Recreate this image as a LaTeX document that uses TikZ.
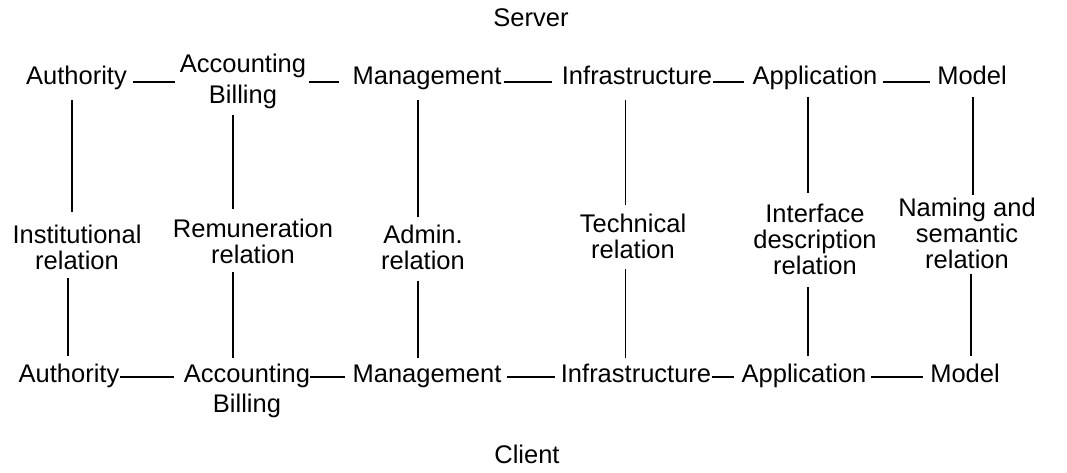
\documentclass[tikz,border=0pt]{standalone}
\usepackage{fontspec}
\setmainfont{Liberation Sans}
\newcommand{\stk}[1]{\begin{tabular}[t]{@{}c@{}}#1\end{tabular}}
\begin{document}
\begin{tikzpicture}[x=1pt,y=-1pt,
  lbl/.style={anchor=base, inner sep=0pt, font=\fontsize{25.5}{25.5}\selectfont},
  ln/.style={line width=1.8pt}]
\useasboundingbox (0,0) rectangle (1067,473);
% titles
\node[lbl] (server) at (531,27) {Server};
\node[lbl] (client) at (527,463) {Client};
% server row
\node[lbl] (sauth) at (76.5,85) {Authority};
\node[lbl] (sacc) at (243,73) {\stk{Accounting\\[4.5pt]Billing}};
\node[lbl] (sman) at (427,85) {Management};
\node[lbl] (sinf) at (637,85) {Infrastructure};
\node[lbl] (sapp) at (815,85) {Application};
\node[lbl] (smod) at (972,85) {Model};
% relations
\node[lbl] (rinst) at (77,243) {\stk{Institutional\\relation}};
\node[lbl] (rrem) at (253,237) {\stk{Remuneration\\relation}};
\node[lbl] (radm) at (423,243) {\stk{Admin.\\relation}};
\node[lbl] (rtec) at (633,232) {\stk{Technical\\relation}};
\node[lbl] (rint) at (815,222) {\stk{Interface\\description\\relation}};
\node[lbl] (rnam) at (967,216) {\stk{Naming and\\semantic\\relation}};
% client row
\node[lbl] (cauth) at (69,382) {Authority};
\node[lbl] (cacc) at (247,382) {\stk{Accounting\\[4.5pt]Billing}};
\node[lbl] (cman) at (427,382) {Management};
\node[lbl] (cinf) at (636,382) {Infrastructure};
\node[lbl] (capp) at (804,382) {Application};
\node[lbl] (cmod) at (965,382) {Model};
% server horizontal links
\draw[ln] ([shift={(6,-3)}]sauth.base east) -- ([shift={(-5,9)}]sacc.base west);
\draw[ln] ([shift={(3,9)}]sacc.base east) -- ([shift={(-13,-3)}]sman.base west);
\draw[ln] ([shift={(2,-3)}]sman.base east) -- ([shift={(-10,-3)}]sinf.base west);
\draw[ln] ([shift={(1,-3)}]sinf.base east) -- ([shift={(-8,-3)}]sapp.base west);
\draw[ln] ([shift={(5,-3)}]sapp.base east) -- ([shift={(-7,-3)}]smod.base west);
% client horizontal links
\draw[ln] ([shift={(0,-5)}]cauth.base east) -- ([shift={(-10,-5)}]cacc.base west);
\draw[ln] ([shift={(0,-5)}]cacc.base east) -- ([shift={(-7,-5)}]cman.base west);
\draw[ln] ([shift={(5,-5)}]cman.base east) -- ([shift={(-6,-5)}]cinf.base west);
\draw[ln] ([shift={(1,-5)}]cinf.base east) -- ([shift={(-7,-5)}]capp.base west);
\draw[ln] ([shift={(4,-5)}]capp.base east) -- ([shift={(-7,-5)}]cmod.base west);
% vertical links: server to relation
\draw[ln] ([shift={(-4.5,15)}]sauth.base) -- ([shift={(-5,-31)}]rinst.base);
\draw[ln] ([shift={(-10,42)}]sacc.base) -- ([shift={(-20,-28)}]rrem.base);
\draw[ln] ([shift={(-9,15)}]sman.base) -- ([shift={(-5,-26)}]radm.base);
\draw[ln] ([shift={(-11.5,15)}]sinf.base) -- ([shift={(-7.5,-27)}]rtec.base);
\draw[ln] ([shift={(-7,12)}]sapp.base) -- ([shift={(-7,-29)}]rint.base);
\draw[ln] ([shift={(1,12)}]smod.base) -- ([shift={(6,-21)}]rnam.base);
% vertical links: relation to client
\draw[ln] ([shift={(-9,35)}]rinst.base) -- ([shift={(-1,-26)}]cauth.base);
\draw[ln] ([shift={(-20,35)}]rrem.base) -- ([shift={(-14,-24)}]cacc.base);
\draw[ln] ([shift={(-5,38)}]radm.base) -- ([shift={(-9,-24)}]cman.base);
\draw[ln] ([shift={(-7.5,37)}]rtec.base) -- ([shift={(-10.5,-24)}]cinf.base);
\draw[ln] ([shift={(-7,65)}]rint.base) -- ([shift={(4,-26)}]capp.base);
\draw[ln] ([shift={(4,58)}]rnam.base) -- ([shift={(6,-26)}]cmod.base);
\end{tikzpicture}
\end{document}
